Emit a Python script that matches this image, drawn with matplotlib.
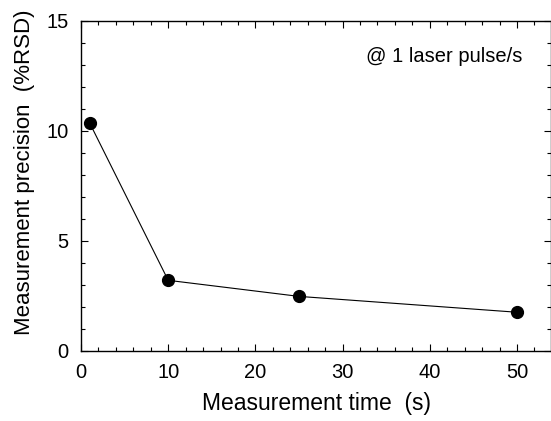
import matplotlib
matplotlib.use('Agg')
import matplotlib.pyplot as plt
from matplotlib.ticker import MultipleLocator

plt.rcParams['font.family'] = ['Liberation Sans', 'DejaVu Sans']

# measurement time (s) vs precision (%RSD)
times = [1, 10, 25, 50]
rsd = [10.35, 3.21, 2.48, 1.76]

fig = plt.figure(figsize=(5.51, 4.21), dpi=100)
ax = fig.add_axes([81 / 551, 1 - 351 / 421, 1 - 81 / 551, (351 - 20.7) / 421])

ax.plot(times, rsd, '-', color='black', linewidth=0.8, marker='o',
        markersize=8.5, markerfacecolor='black', markeredgecolor='black')

ax.set_xlim(0, 53.9)
ax.set_ylim(0, 15)
ax.xaxis.set_major_locator(MultipleLocator(10))
ax.xaxis.set_minor_locator(MultipleLocator(2))
ax.yaxis.set_major_locator(MultipleLocator(5))
ax.yaxis.set_minor_locator(MultipleLocator(1))
ax.tick_params(which='both', direction='in', top=True, right=True, labelsize=14.5, width=0.8)
ax.tick_params(which='major', length=5)
ax.tick_params(axis='x', which='major', pad=9)
ax.tick_params(axis='y', which='major', pad=9)
ax.tick_params(which='minor', length=3)
for s in ax.spines.values():
    s.set_linewidth(1.0)

ax.set_xlabel('Measurement time  (s)', fontsize=16.5, labelpad=7)
ax.set_ylabel('Measurement precision  (%RSD)', fontsize=16)
ax.yaxis.set_label_coords(-0.097, 0.54)
ax.text(0.94, 0.893, '@ 1 laser pulse/s', transform=ax.transAxes,
        ha='right', va='center', fontsize=14.5)

fig.savefig('out.png', dpi=100)
